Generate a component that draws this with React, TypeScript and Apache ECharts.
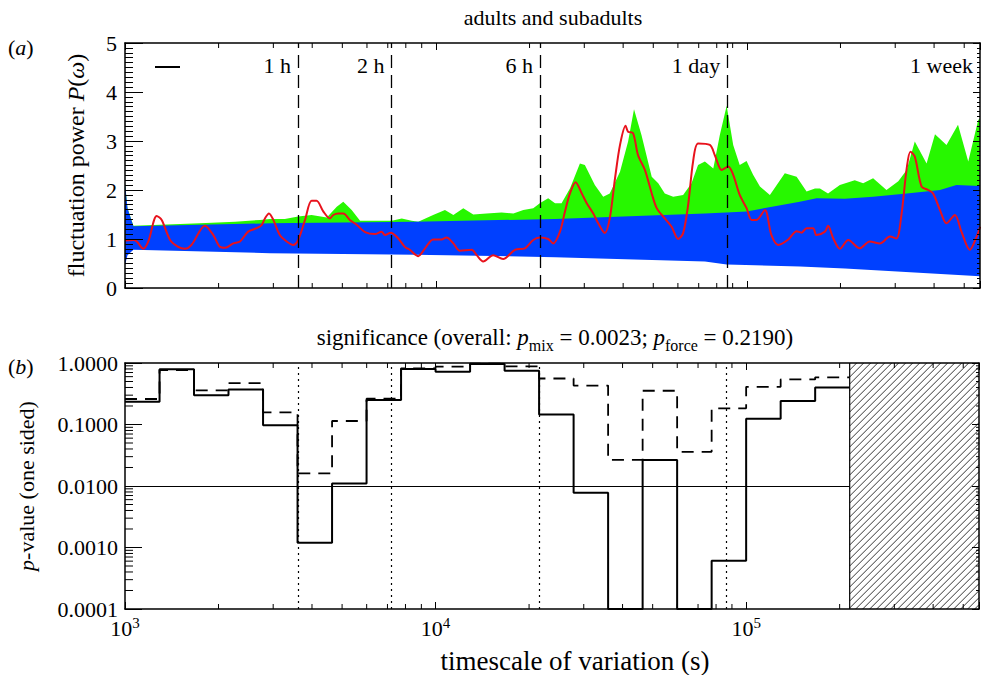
import React, { useEffect, useRef } from 'react';
import * as echarts from 'echarts';

// ---------- shared x range (timescale, seconds) ----------
const X_MIN = 1000;
const X_MAX = 562000;

// ---------- panel (a): log10 timescale (s) and fluctuation power ----------
const redLogT = [3.000, 3.027, 3.038, 3.059, 3.075, 3.102, 3.118, 3.145, 3.171, 3.193, 3.214, 3.257, 3.284, 3.305, 3.322, 3.348, 3.370, 3.396, 3.423, 3.440, 3.450, 3.463, 3.477, 3.498, 3.520, 3.541, 3.557, 3.579, 3.600, 3.616, 3.638, 3.659, 3.670, 3.686, 3.702, 3.723, 3.745, 3.772, 3.804, 3.825, 3.836, 3.855, 3.879, 3.900, 3.916, 3.943, 3.965, 3.991, 4.018, 4.034, 4.056, 4.077, 4.115, 4.131, 4.152, 4.184, 4.216, 4.254, 4.286, 4.313, 4.334, 4.361, 4.377, 4.399, 4.415, 4.431, 4.449, 4.469, 4.485, 4.506, 4.522, 4.543, 4.559, 4.576, 4.592, 4.610, 4.618, 4.634, 4.650, 4.672, 4.694, 4.710, 4.736, 4.758, 4.779, 4.795, 4.811, 4.827, 4.843, 4.881, 4.897, 4.919, 4.940, 4.956, 4.977, 4.999, 5.015, 5.031, 5.058, 5.079, 5.101, 5.133, 5.160, 5.176, 5.192, 5.213, 5.224, 5.251, 5.261, 5.278, 5.299, 5.326, 5.363, 5.395, 5.428, 5.460, 5.481, 5.497, 5.514, 5.526, 5.540, 5.562, 5.583, 5.599, 5.621, 5.642, 5.669, 5.690, 5.717, 5.739, 5.750];
const redPower = [0.97, 0.98, 0.95, 0.80, 0.95, 1.47, 1.39, 0.98, 0.84, 0.80, 0.88, 1.27, 1.08, 0.84, 0.82, 0.91, 0.95, 1.15, 1.22, 1.29, 1.42, 1.52, 1.39, 1.08, 0.95, 0.88, 0.98, 1.39, 1.78, 1.78, 1.56, 1.42, 1.49, 1.52, 1.52, 1.39, 1.29, 1.14, 1.10, 1.15, 1.08, 1.13, 1.01, 0.84, 0.78, 0.65, 0.81, 0.99, 0.99, 1.03, 0.91, 0.76, 0.78, 0.67, 0.54, 0.67, 0.59, 0.78, 0.81, 0.98, 1.03, 1.00, 0.91, 1.15, 1.56, 1.93, 2.16, 1.93, 1.73, 1.52, 1.32, 1.12, 1.42, 2.24, 2.92, 3.31, 3.19, 3.16, 2.71, 2.41, 1.93, 1.63, 1.42, 1.25, 1.00, 1.12, 1.69, 2.58, 2.95, 2.92, 2.71, 2.41, 2.48, 2.31, 1.90, 1.63, 1.39, 1.39, 1.59, 1.08, 0.88, 0.99, 1.16, 1.13, 1.22, 1.22, 1.08, 1.15, 1.27, 1.01, 0.80, 0.98, 0.81, 0.95, 0.91, 1.05, 1.01, 1.49, 2.44, 2.78, 2.68, 2.07, 2.00, 1.93, 1.59, 1.32, 1.49, 1.15, 0.78, 1.05, 1.25];

const greenLogT = [3.000, 3.008, 3.027, 3.241, 3.354, 3.434, 3.466, 3.514, 3.557, 3.600, 3.649, 3.681, 3.702, 3.729, 3.756, 3.858, 3.890, 3.922, 3.943, 3.991, 4.029, 4.056, 4.088, 4.120, 4.163, 4.211, 4.249, 4.281, 4.313, 4.334, 4.361, 4.383, 4.404, 4.431, 4.463, 4.479, 4.511, 4.538, 4.559, 4.592, 4.618, 4.637, 4.661, 4.694, 4.715, 4.736, 4.763, 4.795, 4.822, 4.843, 4.865, 4.892, 4.913, 4.935, 4.956, 4.977, 4.999, 5.020, 5.042, 5.074, 5.122, 5.160, 5.192, 5.219, 5.235, 5.261, 5.299, 5.347, 5.374, 5.406, 5.449, 5.487, 5.514, 5.540, 5.578, 5.605, 5.642, 5.679, 5.712, 5.744, 5.750];
const greenTop = [2.14, 1.63, 1.27, 1.32, 1.35, 1.39, 1.41, 1.41, 1.46, 1.49, 1.44, 1.66, 1.76, 1.59, 1.37, 1.37, 1.42, 1.37, 1.35, 1.49, 1.59, 1.49, 1.63, 1.50, 1.52, 1.54, 1.52, 1.59, 1.63, 1.73, 1.83, 1.73, 1.73, 2.03, 2.54, 2.51, 2.10, 1.86, 1.93, 2.37, 2.99, 3.65, 3.12, 2.27, 2.14, 1.93, 1.86, 1.90, 2.14, 2.51, 2.58, 2.44, 3.12, 3.72, 2.92, 2.51, 2.59, 2.31, 2.07, 1.90, 2.34, 2.27, 1.97, 2.03, 2.03, 1.93, 2.10, 2.20, 2.14, 2.24, 2.00, 2.18, 2.41, 2.99, 2.54, 3.14, 2.92, 3.33, 2.58, 3.43, 3.46];

const blueTopLogT = [3.000, 3.008, 3.027, 3.466, 3.932, 4.383, 4.865, 5.000, 5.063, 5.170, 5.224, 5.315, 5.406, 5.514, 5.621, 5.674, 5.750];
const blueTop = [2.14, 1.63, 1.26, 1.32, 1.35, 1.41, 1.52, 1.56, 1.64, 1.76, 1.83, 1.82, 1.86, 1.93, 2.00, 2.10, 2.08];

const blueLowLogT = [3.000, 3.008, 3.027, 3.466, 3.932, 4.383, 4.865, 4.935, 5.170, 5.315, 5.750];
const blueLow = [0.47, 0.67, 0.78, 0.71, 0.68, 0.63, 0.54, 0.48, 0.44, 0.40, 0.24];

const markerTimes = [3600, 7200, 21600, 86400];
const markerLabels = ['1 h', '2 h', '6 h', '1 day'];
const weekLabel = '1 week';
const markerLabelLevel = 4.55;

// ---------- panel (b): p-values per timescale bin ----------
const binEdges = [1000, 1292, 1668, 2154, 2783, 3594, 4642, 5995, 7743, 10000, 12915, 16681, 21544, 27826, 35938, 46416, 59948, 77426, 100000, 129155, 166810, 215443];
const pMix = [0.235, 0.79, 0.30, 0.37, 0.097, 0.0012, 0.011, 0.25, 0.80, 0.72, 0.96, 0.75, 0.145, 0.0078, 0.0001, 0.0265, 0.0001, 0.00061, 0.124, 0.24, 0.40];
const pForce = [0.26, 0.77, 0.36, 0.47, 0.158, 0.016, 0.114, 0.263, 0.82, 0.87, 0.98, 0.88, 0.56, 0.43, 0.0265, 0.354, 0.036, 0.183, 0.41, 0.54, 0.585];
const pThreshold = 0.01;
const hatchStart = 215443;

const xMinorTicks = [2000, 3000, 4000, 5000, 6000, 7000, 8000, 9000, 20000, 30000, 40000, 50000, 60000, 70000, 80000, 90000, 200000, 300000, 400000, 500000];
const pMinorTicks = [0.0002, 0.0003, 0.0004, 0.0005, 0.0006, 0.0007, 0.0008, 0.0009, 0.002, 0.003, 0.004, 0.005, 0.006, 0.007, 0.008, 0.009, 0.02, 0.03, 0.04, 0.05, 0.06, 0.07, 0.08, 0.09, 0.2, 0.3, 0.4, 0.5, 0.6, 0.7, 0.8, 0.9];

const SERIF = '"Liberation Serif", "Times New Roman", serif';
const RED = '#e8121c';
const GREEN = '#27f700';
const BLUE = '#0040ff';

const toPairs = (logs: number[], vals: number[]) => logs.map((l, i) => [Math.pow(10, l), vals[i]]);
const stepPairs = (vals: number[]) => binEdges.map((e, i) => [e, vals[Math.min(i, vals.length - 1)]]);
const isDecade = (v: number) => Math.abs(Math.log10(v) - Math.round(Math.log10(v))) < 1e-6;

function xAxisDef(gridIndex: number, position: string, labels: boolean) {
  return {
    type: 'log', logBase: 10, gridIndex, position, min: X_MIN, max: X_MAX, z: 10,
    axisLine: { show: true, onZero: false, lineStyle: { color: '#000', width: 1.5 } },
    axisTick: { show: true, inside: true, length: 7, lineStyle: { color: '#000', width: 1 } },
    axisLabel: labels ? {
      show: true, margin: 6, color: '#000', fontFamily: SERIF, fontSize: 22,
      formatter: (v: number) => isDecade(v) ? '{b|10}{s|' + Math.round(Math.log10(v)) + '}' : '',
      rich: {
        b: { fontFamily: SERIF, fontSize: 22, color: '#000' },
        s: { fontFamily: SERIF, fontSize: 15, color: '#000', padding: [0, 0, 12, 0] },
      },
    } : { show: false },
    splitLine: { show: false },
  };
}

function minorTickSeries(name: string, xi: number, yi: number, data: number[][], dir: 'x' | 'y', lenA: number, lenB: number) {
  return {
    type: 'custom', name, xAxisIndex: xi, yAxisIndex: yi, z: 9, silent: true,
    data,
    renderItem: (params: any, api: any) => {
      const cs = params.coordSys;
      const p = api.coord([api.value(0), api.value(1)]);
      const st = { stroke: '#000', lineWidth: 1 };
      if (dir === 'x') {
        const x = p[0];
        return {
          type: 'group', children: [
            { type: 'line', shape: { x1: x, y1: cs.y + cs.height, x2: x, y2: cs.y + cs.height - lenA }, style: st },
            { type: 'line', shape: { x1: x, y1: cs.y, x2: x, y2: cs.y + lenB }, style: st },
          ],
        };
      }
      const y = p[1];
      return {
        type: 'group', children: [
          { type: 'line', shape: { x1: cs.x, y1: y, x2: cs.x + lenA, y2: y }, style: st },
          { type: 'line', shape: { x1: cs.x + cs.width, y1: y, x2: cs.x + cs.width - lenB, y2: y }, style: st },
        ],
      };
    },
  };
}

export default function App() {
  const ref = useRef<HTMLDivElement>(null);
  useEffect(() => {
    const chart = echarts.init(ref.current!, null, { renderer: 'svg' });
    const areaLine = (name: string, data: number[][], color: string, z: number) => ({
      type: 'line', name, xAxisIndex: 0, yAxisIndex: 0, data, showSymbol: false, symbol: 'none',
      lineStyle: { width: 0, color }, areaStyle: { color, opacity: 1 }, z, silent: true,
    });
    const option: any = {
      animation: false,
      backgroundColor: '#fff',
      textStyle: { fontFamily: SERIF },
      grid: [
        { left: 125, right: 2, top: 43, height: 245 },
        { left: 125, right: 2, top: 363, height: 246 },
      ],
      xAxis: [
        xAxisDef(0, 'bottom', false),
        xAxisDef(0, 'top', false),
        xAxisDef(1, 'bottom', true),
        xAxisDef(1, 'top', false),
      ],
      yAxis: [
        {
          type: 'value', gridIndex: 0, position: 'left', min: 0, max: 5, interval: 1, z: 10,
          name: 'fluctuation power {i|P}({i|ω})', nameLocation: 'middle', nameGap: 37,
          nameTextStyle: { fontFamily: SERIF, fontSize: 24, color: '#000', rich: { i: { fontFamily: SERIF, fontSize: 24, fontStyle: 'italic', color: '#000' } } },
          axisLine: { show: true, lineStyle: { color: '#000', width: 1.5 } },
          axisTick: { show: true, inside: true, length: 18, lineStyle: { color: '#000' } },
          minorTick: { show: true, splitNumber: 10, length: 8, lineStyle: { color: '#000' } },
          axisLabel: { color: '#000', fontFamily: SERIF, fontSize: 22, margin: 8 },
          splitLine: { show: false },
        },
        {
          type: 'value', gridIndex: 0, position: 'right', min: 0, max: 5, interval: 1, z: 10,
          axisLine: { show: true, lineStyle: { color: '#000', width: 1.5 } },
          axisTick: { show: true, inside: true, length: 7, lineStyle: { color: '#000' } },
          minorTick: { show: true, splitNumber: 10, length: 3, lineStyle: { color: '#000' } },
          axisLabel: { show: false },
          splitLine: { show: false },
        },
        {
          type: 'log', logBase: 10, gridIndex: 1, position: 'left', min: 0.0001, max: 1, z: 10,
          name: '{i|p}-value (one sided)', nameLocation: 'middle', nameGap: 88,
          nameTextStyle: { fontFamily: SERIF, fontSize: 22, color: '#000', rich: { i: { fontFamily: SERIF, fontSize: 22, fontStyle: 'italic', color: '#000' } } },
          axisLine: { show: true, onZero: false, lineStyle: { color: '#000', width: 1.5 } },
          axisTick: { show: true, inside: true, length: 17, lineStyle: { color: '#000' } },
          axisLabel: { color: '#000', fontFamily: SERIF, fontSize: 22, margin: 7, formatter: (v: number) => isDecade(v) ? v.toFixed(4) : '' },
          splitLine: { show: false },
        },
        {
          type: 'log', logBase: 10, gridIndex: 1, position: 'right', min: 0.0001, max: 1, z: 10,
          axisLine: { show: true, onZero: false, lineStyle: { color: '#000', width: 1.5 } },
          axisTick: { show: true, inside: true, length: 7, lineStyle: { color: '#000' } },
          axisLabel: { show: false },
          splitLine: { show: false },
        },
      ],
      graphic: [
        { type: 'text', x: 553, y: 17, style: { text: 'adults and subadults', fontFamily: SERIF, fontSize: 22, fill: '#000', align: 'center', verticalAlign: 'middle' } },
        { type: 'text', left: 8, top: 36, style: { text: '({i|a})', fontFamily: SERIF, fontSize: 22, fill: '#000', rich: { i: { fontFamily: SERIF, fontSize: 22, fontStyle: 'italic' } } } },
        { type: 'text', left: 8, top: 355, style: { text: '({i|b})', fontFamily: SERIF, fontSize: 22, fill: '#000', rich: { i: { fontFamily: SERIF, fontSize: 22, fontStyle: 'italic' } } } },
        { type: 'line', shape: { x1: 155, y1: 67, x2: 180, y2: 67 }, style: { stroke: '#000', lineWidth: 2 } },
        {
          type: 'text', x: 555, y: 337, style: {
            text: '{n|significance (overall: }{i|p}{s|mix}{n| = 0.0023; }{i|p}{s|force}{n| = 0.2190)}',
            align: 'center', verticalAlign: 'middle', fill: '#000',
            rich: {
              n: { fontFamily: SERIF, fontSize: 23 },
              i: { fontFamily: SERIF, fontSize: 23, fontStyle: 'italic' },
              s: { fontFamily: SERIF, fontSize: 16, padding: [16, 0, 0, 0] },
            },
          },
        },
        { type: 'text', x: 575, y: 661, style: { text: 'timescale of variation (s)', fontFamily: SERIF, fontSize: 27, fill: '#000', align: 'center', verticalAlign: 'middle' } },
      ],
      series: [
        areaLine('ensemble upper (green)', toPairs(greenLogT, greenTop), GREEN, 1),
        areaLine('ensemble band (blue)', toPairs(blueTopLogT, blueTop), BLUE, 2),
        areaLine('below band', toPairs(blueLowLogT, blueLow), '#ffffff', 3),
        {
          type: 'line', name: 'observed P(ω)', xAxisIndex: 0, yAxisIndex: 0, z: 4,
          data: toPairs(redLogT, redPower), showSymbol: false, symbol: 'none', smooth: 0.3,
          lineStyle: { color: RED, width: 2 },
          markLine: {
            silent: true, symbol: ['none', 'none'], label: { show: false },
            lineStyle: { color: '#000', width: 1.3, type: [13, 7] },
            data: markerTimes.map((t) => ({ xAxis: t })),
          },
          markPoint: {
            silent: true, symbol: 'circle', symbolSize: 0,
            label: { show: true, position: 'left', distance: 7, color: '#000', fontFamily: SERIF, fontSize: 22, formatter: (p: any) => p.name },
            data: [
              ...markerTimes.map((t, i) => ({ name: markerLabels[i], coord: [t, markerLabelLevel] })),
              { name: weekLabel, coord: [X_MAX, markerLabelLevel] },
            ],
          },
        },
        minorTickSeries('x minor ticks (a)', 0, 0, xMinorTicks.map((v) => [v, 1]), 'x', 5, 5),
        {
          type: 'line', name: 'p mix', xAxisIndex: 2, yAxisIndex: 2, z: 4,
          data: stepPairs(pMix), step: 'end', showSymbol: false, symbol: 'none',
          lineStyle: { color: '#000', width: 2 },
          markLine: {
            silent: true, symbol: ['none', 'none'], label: { show: false },
            lineStyle: { color: '#000', width: 1 },
            data: [
              ...markerTimes.map((t) => ({ xAxis: t, lineStyle: { type: [2, 4], color: '#000', width: 1.2 } })),
              { yAxis: pThreshold, lineStyle: { type: 'solid', color: '#000', width: 1 } },
            ],
          },
        },
        {
          type: 'line', name: 'p force', xAxisIndex: 2, yAxisIndex: 2, z: 4,
          data: stepPairs(pForce), step: 'end', showSymbol: false, symbol: 'none',
          lineStyle: { color: '#000', width: 1.8, type: [12, 8] },
        },
        {
          type: 'custom', name: 'excluded timescales', xAxisIndex: 2, yAxisIndex: 2, z: 6, silent: true,
          data: [[hatchStart, 1]],
          renderItem: (params: any, api: any) => {
            const tl = api.coord([hatchStart, 1]);
            const br = api.coord([X_MAX, 0.0001]);
            const x0 = tl[0], y0 = tl[1], x1 = br[0], y1 = br[1];
            const children: any[] = [
              { type: 'rect', shape: { x: x0, y: y0, width: x1 - x0, height: y1 - y0 }, style: { fill: '#fff', stroke: null } },
            ];
            const step = 7;
            for (let s = x0 + y0 + step; s < x1 + y1; s += step) {
              const xa = Math.max(x0, s - y1);
              const xb = Math.min(x1, s - y0);
              if (xb <= xa) continue;
              children.push({ type: 'line', shape: { x1: xa, y1: s - xa, x2: xb, y2: s - xb }, style: { stroke: '#000', lineWidth: 0.8 } });
            }
            children.push({ type: 'line', shape: { x1: x0, y1: y0, x2: x0, y2: y1 }, style: { stroke: '#000', lineWidth: 1.2 } });
            return { type: 'group', children };
          },
        },
        minorTickSeries('x minor ticks (b)', 2, 2, xMinorTicks.map((v) => [v, 0.01]), 'x', 5, 5),
        minorTickSeries('p minor ticks', 2, 2, pMinorTicks.map((v) => [X_MIN, v]), 'y', 8, 3),
      ],
    };
    chart.setOption(option);
    return () => chart.dispose();
  }, []);
  return <div ref={ref} style={{ position: 'absolute', left: 0, top: 0, width: 982, height: 675, background: '#fff' }} />;
}
